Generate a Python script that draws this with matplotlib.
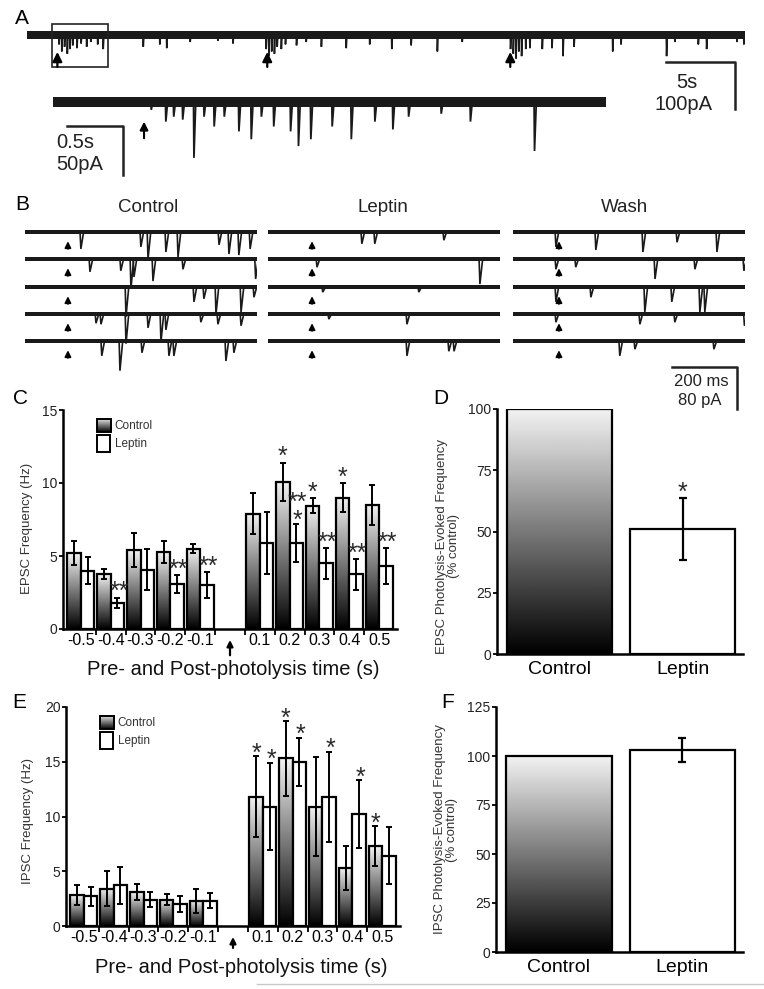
import numpy as np
import matplotlib
matplotlib.use('Agg')
import matplotlib.pyplot as plt
from matplotlib.patches import Rectangle

plt.rcParams['font.family'] = ['Liberation Sans', 'DejaVu Sans']

W, H = 764, 989

# ---------------- data ----------------
# panel A: spontaneous events (time s, amplitude pA)
a_full_len = 52.0
a_full_stim = [2.2, 17.4, 35.0]
a_full_events = [
    (0.2, 8), (2.3, 20), (2.5, 35), (2.7, 25), (2.9, 40), (3.1, 30), (3.3, 22),
    (3.6, 28), (3.9, 18), (4.3, 25), (4.6, 15), (5.1, 20), (5.5, 30), (8.4, 25),
    (9.6, 20), (10.1, 28), (11.8, 15), (13.8, 12), (14.9, 18),
    (17.3, 30), (17.5, 45), (17.7, 35), (17.9, 40), (18.1, 25), (18.4, 30),
    (18.7, 20), (19.5, 22), (20.2, 15), (21.3, 25), (23.1, 28), (24.8, 20),
    (26.4, 30), (27.8, 22), (29.7, 35), (31.5, 15),
    (35.0, 30), (35.2, 40), (35.4, 50), (35.6, 35), (35.8, 45), (36.1, 30),
    (36.4, 28), (37.3, 30), (38.0, 28), (38.8, 45), (39.6, 25), (42.4, 35),
    (43.0, 20), (46.3, 45), (46.9, 15), (48.6, 20), (49.2, 30), (51.4, 15), (51.9, 20),
]
a_zoom_start, a_zoom_len = 1.8, 4.1
a_inset_len = 4.92
a_inset_stim = 0.81
a_inset_events = [
    (0.87, 8), (1.00, 20), (1.07, 15), (1.15, 18), (1.25, 57), (1.34, 15),
    (1.43, 25), (1.52, 15), (1.65, 30), (1.76, 38), (1.85, 15), (1.96, 25),
    (2.11, 30), (2.18, 45), (2.29, 38), (2.48, 25), (2.65, 38), (2.86, 20),
    (3.02, 28), (3.16, 15), (3.45, 12), (3.71, 20), (4.28, 50),
]

# panel B: sweeps (time ms, amplitude pA), 5 sweeps per condition
b_titles = ['Control', 'Leptin', 'Wash']
b_sweep_len = 843
b_stim = [156, 160, 167]
b_control = [
    [(200, 33), (418, 29), (444, 53), (509, 39), (553, 49), (702, 25), (738, 43), (774, 45), (815, 33)],
    [(233, 25), (345, 23), (382, 58), (393, 35), (462, 43), (571, 20), (835, 39)],
    [(364, 58), (611, 29), (647, 23), (691, 53), (782, 49), (829, 20)],
    [(255, 18), (273, 20), (364, 58), (444, 27), (491, 55), (509, 31), (636, 16), (698, 20), (782, 23)],
    [(276, 29), (342, 58), (422, 23), (520, 29), (538, 29), (727, 39), (756, 23)],
]
b_leptin = [
    [(338, 23), (385, 23), (636, 16)],
    [(175, 16), (767, 49)],
    [(196, 10), (545, 10)],
    [(218, 10), (502, 20)],
    [(502, 29), (654, 20), (673, 20)],
]
b_wash = [
    [(153, 29), (298, 35), (469, 39), (593, 20), (738, 39)],
    [(153, 20), (225, 16), (513, 39), (658, 20), (836, 23)],
    [(153, 29), (280, 20), (476, 49), (574, 29), (676, 49), (694, 49)],
    [(153, 16), (458, 20), (585, 16), (838, 23)],
    [(385, 29), (440, 16), (727, 16)],
]

# panels C / E
time_labels = ['-0.5', '-0.4', '-0.3', '-0.2', '-0.1', '0.1', '0.2', '0.3', '0.4', '0.5']
epsc_control = [5.2, 3.75, 5.4, 5.25, 5.5, 7.9, 10.1, 8.45, 9.0, 8.5]
epsc_control_err = [0.85, 0.35, 1.15, 0.75, 0.3, 1.4, 1.3, 0.5, 1.0, 1.35]
epsc_leptin = [4.0, 1.8, 4.05, 3.1, 3.0, 5.9, 5.9, 4.5, 3.75, 4.3]
epsc_leptin_err = [0.95, 0.35, 1.4, 0.6, 0.9, 2.1, 1.3, 1.05, 1.05, 1.25]
epsc_control_sig = ['', '', '', '', '', '', '*', '*', '*', '']
epsc_leptin_sig = ['', '**', '', '**', '**', '', '**\n*', '**', '**', '**']

ipsc_control = [2.8, 3.4, 3.1, 2.4, 2.3, 11.8, 15.3, 10.9, 5.3, 7.3]
ipsc_control_err = [0.9, 1.6, 0.7, 0.5, 1.1, 3.7, 3.4, 4.5, 2.0, 1.8]
ipsc_leptin = [2.7, 3.7, 2.4, 2.0, 2.3, 10.9, 15.0, 11.8, 10.2, 6.4]
ipsc_leptin_err = [0.9, 1.7, 0.7, 0.7, 0.7, 4.0, 2.2, 4.1, 3.1, 2.6]
ipsc_control_sig = ['', '', '', '', '', '*', '*', '', '', '*']
ipsc_leptin_sig = ['', '', '', '', '', '*', '*', '*', '*', '']

# panels D / F
conditions = ['Control', 'Leptin']
epsc_evoked = [100, 51]
epsc_evoked_err = [0, 12.5]
epsc_evoked_sig = ['', '*']
ipsc_evoked = [100, 103]
ipsc_evoked_err = [0, 6]
ipsc_evoked_sig = ['', '']

# ---------------- drawing ----------------
GRAD = np.linspace(0.0, 0.95, 256).reshape(-1, 1)
TRACE = '#1a1a1a'

fig = plt.figure(figsize=(W / 100, H / 100), dpi=100)


def px_axes(x0, y0, x1, y1):
    return fig.add_axes([x0 / W, 1 - y1 / H, (x1 - x0) / W, (y1 - y0) / H])


def trace_axes(x0, x1, base_y, above, below, t_len, pa_per_px):
    ax = px_axes(x0, base_y - above, x1, base_y + below)
    ax.set_xlim(0, t_len)
    ax.set_ylim(-below * pa_per_px, above * pa_per_px)
    ax.axis('off')
    ax.patch.set_alpha(0)
    return ax


def draw_trace(ax, t_len, events, noise, rise, decay, lw=1.1):
    ax.fill_between([0, t_len], -noise, noise, color=TRACE, lw=0)
    for t, a in events:
        ax.plot([t, t + rise, t + decay], [0, -a, 0], color=TRACE, lw=lw,
                solid_joinstyle='miter')


def up_arrow(ax, x, y_head, y_tail, lw=1.4, ms=11):
    ax.annotate('', xy=(x, y_head), xytext=(x, y_tail),
                arrowprops=dict(arrowstyle='-|>', color='k', lw=lw,
                                mutation_scale=ms, shrinkA=0, shrinkB=0),
                annotation_clip=False)


def grad_bar(ax, x, w, h):
    ax.imshow(GRAD, extent=(x - w / 2, x + w / 2, 0, h), origin='lower', cmap='gray',
              vmin=0, vmax=1, aspect='auto', interpolation='bilinear', zorder=1)
    ax.bar(x, h, w, fill=False, edgecolor='k', lw=1.6, zorder=2)


def stars(ax, x, top, s, off, fs=18):
    n = s.count('\n')
    ax.annotate(s, (x, top), xytext=(0, off + n * 4.7), textcoords='offset points',
                ha='center', va='center', multialignment='center', linespacing=0.7,
                fontsize=fs, color='#2a2a2a')


def style_axes(ax):
    for side in ('top', 'right'):
        ax.spines[side].set_visible(False)
    for side in ('left', 'bottom'):
        ax.spines[side].set_linewidth(1.8)
    ax.tick_params(axis='y', direction='out', length=3, width=1.3, labelsize=10,
                   pad=1, labelcolor='#222222')


def group_panel(rect, ctrl, ctrl_err, lep, lep_err, ctrl_sig, lep_sig, ymax, ystep,
                ylabel, ylab_xy, xlab_xy, arrow_y, star_off):
    ax = px_axes(*rect)
    pos = np.array([0, 1, 2, 3, 4, 6, 7, 8, 9, 10])
    w = 0.45
    for p, h in zip(pos - w / 2, ctrl):
        grad_bar(ax, p, w, h)
    ax.bar(pos + w / 2, lep, w, facecolor='white', edgecolor='k', lw=1.6, zorder=2)
    ax.errorbar(pos - w / 2, ctrl, yerr=ctrl_err, fmt='none', ecolor='k',
                elinewidth=1.4, capsize=2.5, capthick=1.4, zorder=3)
    ax.errorbar(pos + w / 2, lep, yerr=lep_err, fmt='none', ecolor='k',
                elinewidth=1.4, capsize=2.5, capthick=1.4, zorder=3)
    for p, h, e, s in zip(pos - w / 2, ctrl, ctrl_err, ctrl_sig):
        if s:
            stars(ax, p, h + e, s, star_off)
    for p, h, e, s in zip(pos + w / 2, lep, lep_err, lep_sig):
        if s:
            stars(ax, p + 0.05, h + e, s, star_off)
    xl = (-0.6, 10.6)
    style_axes(ax)
    ax.set_yticks(np.arange(0, ymax + 0.1, ystep))
    ax.set_xticks(np.arange(0.5, 10, 1))
    ax.set_xticklabels([])
    ax.tick_params(axis='x', which='major', direction='out', length=4, width=1.3)
    ax.set_xticks(pos, minor=True)
    ax.set_xticklabels(time_labels, minor=True)
    ax.tick_params(axis='x', which='minor', length=0, labelsize=11.5, pad=3)
    # legend
    fx = lambda f: xl[0] + f * (xl[1] - xl[0])
    fy = lambda f: f * ymax
    ax.imshow(GRAD, extent=(fx(0.102), fx(0.145), fy(0.898), fy(0.958)), origin='lower',
              cmap='gray', vmin=0, vmax=1, aspect='auto', zorder=1)
    ax.add_patch(Rectangle((fx(0.102), fy(0.898)), fx(0.145) - fx(0.102), fy(0.06),
                           fill=False, edgecolor='k', lw=1.4, zorder=2))
    ax.add_patch(Rectangle((fx(0.102), fy(0.808)), fx(0.142) - fx(0.102), fy(0.077),
                           facecolor='white', edgecolor='k', lw=1.4, zorder=2))
    ax.text(fx(0.155), fy(0.928), 'Control', fontsize=8.5, va='center', color='#333333')
    ax.text(fx(0.155), fy(0.846), 'Leptin', fontsize=8.5, va='center', color='#333333')
    ax.set_xlim(*xl)
    ax.set_ylim(0, ymax)
    ax.set_ylabel(ylabel, fontsize=9.5, color='#333333')
    ax.yaxis.set_label_coords(*ylab_xy)
    ax.set_xlabel('Pre- and Post-photolysis time (s)', fontsize=14.5, color='#111111')
    ax.xaxis.set_label_coords(*xlab_xy)
    ax.annotate('', xy=(5, arrow_y[0]), xycoords=('data', 'axes fraction'),
                xytext=(5, arrow_y[1]), textcoords=('data', 'axes fraction'),
                arrowprops=dict(arrowstyle='-|>', color='k', lw=1.6, mutation_scale=9,
                                shrinkA=0, shrinkB=0), annotation_clip=False)
    return ax


def evoked_panel(rect, vals, errs, sigs, ymax, ystep, ylabel, ylab_xy):
    ax = px_axes(*rect)
    w = 0.855
    grad_bar(ax, 0, w, vals[0])
    ax.bar(1, vals[1], w, facecolor='white', edgecolor='k', lw=1.6, zorder=2)
    for i in range(2):
        if errs[i]:
            ax.errorbar(i, vals[i], yerr=errs[i], fmt='none', ecolor='k',
                        elinewidth=1.6, capsize=3, capthick=1.6, zorder=3)
        if sigs[i]:
            stars(ax, i, vals[i] + errs[i], sigs[i], 4)
    ax.set_xlim(-0.51, 1.49)
    ax.set_ylim(0, ymax)
    style_axes(ax)
    ax.set_yticks(np.arange(0, ymax + 0.1, ystep))
    ax.set_xticks([0, 1])
    ax.set_xticklabels(conditions, fontsize=14)
    ax.tick_params(axis='x', length=0, pad=5)
    ax.set_ylabel(ylabel, fontsize=9.5, color='#333333', linespacing=1.0)
    ax.yaxis.set_label_coords(*ylab_xy)
    return ax


# ----- panel A -----
ax_a = trace_axes(27, 745, 35, 15, 55, a_full_len, 100 / 47)
draw_trace(ax_a, a_full_len, a_full_events, 7.5, 0.02, 0.07, lw=1.2)
ax_a.add_patch(Rectangle((a_zoom_start, -68), a_zoom_len, 91, fill=False,
                         edgecolor='#222222', lw=1.2, clip_on=False))
for t in a_full_stim:
    up_arrow(ax_a, t, -36, -68, lw=1.6, ms=14)

ax_ai = trace_axes(53, 606, 102, 17, 75, a_inset_len, 50 / 49)
draw_trace(ax_ai, a_inset_len, a_inset_events, 5.0, 0.004, 0.02, lw=1.3)
up_arrow(ax_ai, a_inset_stim, -20, -37, lw=1.5, ms=12)

# ----- panel B -----
b_cols = [25, 268, 513]
b_rows = [232, 259, 287, 314, 341]
for col, sweeps, stim in zip(b_cols, [b_control, b_leptin, b_wash], b_stim):
    for base, ev in zip(b_rows, sweeps):
        ax_b = trace_axes(col, col + 232, base, 15, 35, b_sweep_len, 80 / 41)
        draw_trace(ax_b, b_sweep_len, ev, 4.0, 3, 13, lw=1.2)
        up_arrow(ax_b, stim, -18, -33, lw=1.3, ms=9)

# ----- panels C-F -----
group_panel((63, 410, 397, 629), epsc_control, epsc_control_err, epsc_leptin,
            epsc_leptin_err, epsc_control_sig, epsc_leptin_sig, 15, 5,
            'EPSC Frequency (Hz)', (-0.09, 0.46), (0.51, -0.14), (-0.05, -0.12), 4)
group_panel((66, 707, 400, 926), ipsc_control, ipsc_control_err, ipsc_leptin,
            ipsc_leptin_err, ipsc_control_sig, ipsc_leptin_sig, 20, 5,
            'IPSC Frequency (Hz)', (-0.095, 0.48), (0.524, -0.145), (-0.05, -0.10), 2)
evoked_panel((497, 409, 743, 654), epsc_evoked, epsc_evoked_err, epsc_evoked_sig, 100, 25,
             'EPSC Photolysis-Evoked Frequency\n(% control)', (-0.15, 0.44))
evoked_panel((496, 707, 743, 952), ipsc_evoked, ipsc_evoked_err, ipsc_evoked_sig, 125, 25,
             'IPSC Photolysis-Evoked Frequency\n(% control)', (-0.155, 0.5))

# ----- overlay: labels, scale bars -----
ov = fig.add_axes([0, 0, 1, 1])
ov.set_xlim(0, W)
ov.set_ylim(H, 0)
ov.axis('off')
ov.patch.set_alpha(0)

for lab, x, y in [('A', 22, 18), ('B', 22, 204), ('C', 20, 398), ('D', 441, 398),
                  ('E', 19, 702), ('F', 448, 702)]:
    ov.text(x, y, lab, fontsize=15, ha='center', va='center')
for title, x in zip(b_titles, [148, 383, 625]):
    ov.text(x, 208, title, fontsize=13.5, ha='center', va='center', color='#222222')

# scale bars
ov.plot([666, 735, 735], [62, 62, 109], color='#222222', lw=1.8)
ov.text(687, 83, '5s', fontsize=14.5, ha='center', va='center', color='#222222')
ov.text(684, 105, '100pA', fontsize=14.5, ha='center', va='center', color='#222222')
ov.plot([67, 123, 123], [126, 126, 175], color='#222222', lw=1.8)
ov.text(56, 143, '0.5s', fontsize=14.5, ha='left', va='center', color='#222222')
ov.text(56, 165, '50pA', fontsize=14.5, ha='left', va='center', color='#222222')
ov.plot([672, 737, 737], [367, 367, 409], color='#222222', lw=1.8)
ov.text(701, 382, '200 ms', fontsize=12, ha='center', va='center', color='#222222')
ov.text(700, 401, '80 pA', fontsize=12, ha='center', va='center', color='#222222')

ov.plot([257, 764], [984, 984], color='#c8c8c8', lw=1)

fig.savefig('out.png', dpi=100)
